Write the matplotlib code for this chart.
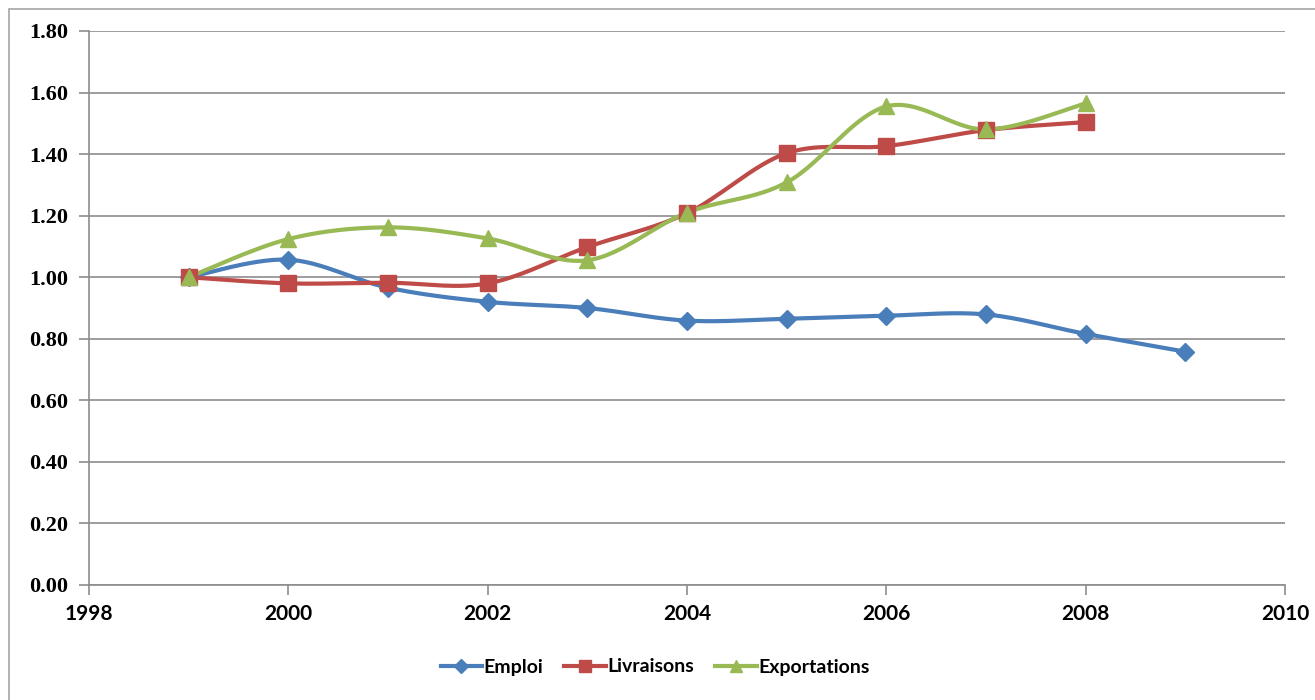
import numpy as np
import matplotlib.pyplot as plt
from matplotlib.lines import Line2D
from matplotlib.patches import Rectangle

# Index values (base 1999 = 1.00)
years_emploi = [1999, 2000, 2001, 2002, 2003, 2004, 2005, 2006, 2007, 2008, 2009]
emploi = [1.00, 1.057, 0.966, 0.920, 0.900, 0.859, 0.865, 0.875, 0.879, 0.816, 0.758]

years_livr = [1999, 2000, 2001, 2002, 2003, 2004, 2005, 2006, 2007, 2008]
livraisons = [1.00, 0.980, 0.982, 0.980, 1.098, 1.208, 1.403, 1.426, 1.478, 1.504]

years_expo = [1999, 2000, 2001, 2002, 2003, 2004, 2005, 2006, 2007, 2008]
exportations = [1.00, 1.124, 1.162, 1.126, 1.055, 1.210, 1.308, 1.555, 1.480, 1.565]

x_ticks = [1998, 2000, 2002, 2004, 2006, 2008, 2010]
y_ticks = [0.0, 0.2, 0.4, 0.6, 0.8, 1.0, 1.2, 1.4, 1.6, 1.8]


def smooth(x, y, n=30):
    """Catmull-Rom curve through the points (spreadsheet-style smoothed line)."""
    x = np.asarray(x, float)
    y = np.asarray(y, float)
    px = np.concatenate([[x[0]], x, [x[-1]]])
    py = np.concatenate([[y[0]], y, [y[-1]]])
    xs, ys = [], []
    t = np.linspace(0, 1, n)
    for i in range(1, len(px) - 2):
        p0, p1, p2, p3 = (np.array([px[j], py[j]]) for j in range(i - 1, i + 3))
        c1 = p1 + (p2 - p0) / 6
        c2 = p2 - (p3 - p1) / 6
        b = ((1 - t) ** 3)[:, None] * p1 + (3 * (1 - t) ** 2 * t)[:, None] * c1 \
            + (3 * (1 - t) * t ** 2)[:, None] * c2 + (t ** 3)[:, None] * p2
        xs.extend(b[:, 0])
        ys.extend(b[:, 1])
    return np.array(xs), np.array(ys)


series = [
    ("Emploi", years_emploi, emploi, "#4a7ebb", "D", 9),
    ("Livraisons", years_livr, livraisons, "#be4b48", "s", 11),
    ("Exportations", years_expo, exportations, "#98b954", "^", 11),
]

fig = plt.figure(figsize=(13.15, 7.0), dpi=100)
fig.patches.append(Rectangle((9 / 1315, -0.01), 1.02, (700 - 9) / 700 + 0.01,
                             transform=fig.transFigure, fill=False,
                             edgecolor="#a6a6a6", linewidth=1.2))
ax = fig.add_axes([89 / 1315, 115 / 700, 1196 / 1315, 554 / 700])

for name, xs, ys, color, marker, ms in series:
    sx, sy = smooth(xs, ys)
    ax.plot(sx, sy, color=color, linewidth=3, solid_capstyle="round", zorder=3)
    ax.plot(xs, ys, linestyle="none", marker=marker, markersize=ms,
            color=color, markeredgecolor=color, zorder=4)

ax.set_xlim(1998, 2010)
ax.set_ylim(0, 1.8)
ax.set_xticks(x_ticks)
ax.set_yticks(y_ticks)
ax.set_xticklabels([str(v) for v in x_ticks], fontfamily="Lato",
                   fontweight="bold", fontsize=15)
ax.set_yticklabels([f"{v:.2f}" for v in y_ticks], fontfamily="Liberation Serif",
                   fontweight="bold", fontsize=16)
ax.yaxis.grid(True, color="#8c8c8c", linewidth=1.2)
ax.set_axisbelow(True)
for side in ("top", "right"):
    ax.spines[side].set_visible(False)
for side in ("left", "bottom"):
    ax.spines[side].set_color("#8c8c8c")
    ax.spines[side].set_linewidth(1.2)
ax.tick_params(axis="both", direction="out", length=7, color="#8c8c8c", width=1.2)
ax.tick_params(axis="x", pad=7)
ax.tick_params(axis="y", pad=8)

handles = [Line2D([], [], color=c, linewidth=3, marker=m, markersize=ms * 0.8,
                  markeredgecolor=c) for _, _, _, c, m, ms in series]
fig.legend(handles, [s[0] for s in series], loc="center",
           bbox_to_anchor=(655 / 1315, 1 - 667 / 700), ncol=3, frameon=False,
           prop={"family": "Lato", "weight": "bold", "size": 14},
           handlelength=2.15, handletextpad=0.05, columnspacing=1.1)

fig.savefig("out.png", dpi=100)
